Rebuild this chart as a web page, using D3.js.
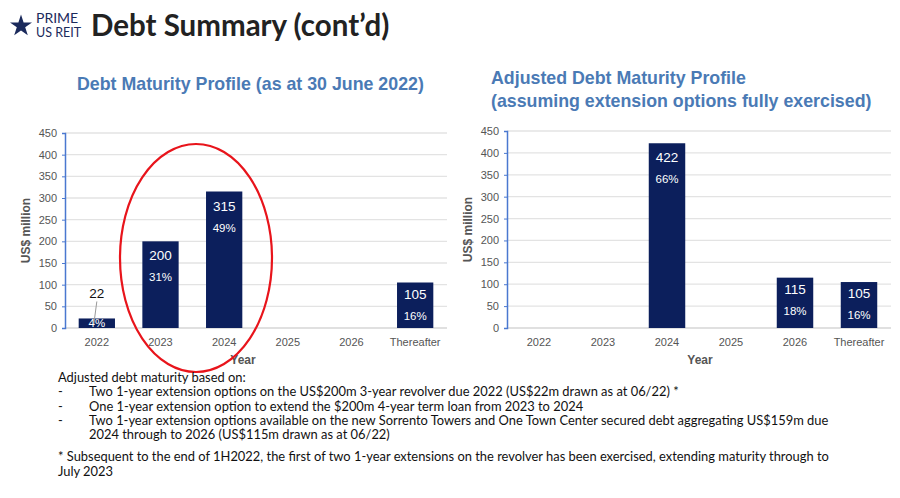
<!DOCTYPE html>
<html lang="en">
<head>
<meta charset="UTF-8">
<title>Debt Summary</title>
<script src="https://cdn.jsdelivr.net/npm/d3@7"></script>
<style>
  body { margin: 0; background: #fff; }
  svg { display: block; font-family: Arial, "Liberation Sans", sans-serif; }
  .notes { position: absolute; left: 58px; top: 370px; font-family: Lato, sans-serif; font-size: 12.9px; color: #111; line-height: 14.3px; }
  .notes .li span { display: inline-block; width: 31px; }
</style>
</head>
<body>
<div id="chart"></div>
<div class="notes">
  <div>Adjusted debt maturity based on:</div>
  <div class="li"><span>-</span>Two 1-year extension options on the US$200m 3-year revolver due 2022 (US$22m drawn as at 06/22) *</div>
  <div class="li"><span>-</span>One 1-year extension option to extend the $200m 4-year term loan from 2023 to 2024</div>
  <div class="li"><span>-</span>Two 1-year extension options available on the new Sorrento Towers and One Town Center secured debt aggregating US$159m due</div>
  <div class="li"><span></span>2024 through to 2026 (US$115m drawn as at 06/22)</div>
  <div style="height:8px"></div>
  <div>* Subsequent to the end of 1H2022, the first of two 1-year extensions on the revolver has been exercised, extending maturity through to</div>
  <div>July 2023</div>
</div>
<script>
const years = ['2022', '2023', '2024', '2025', '2026', 'Thereafter'];
const actualValues = [22, 200, 315, 0, 0, 105];
const actualPct = ['4%', '31%', '49%', '', '', '16%'];
const adjustedValues = [0, 0, 422, 0, 115, 105];
const adjustedPct = ['', '', '66%', '', '18%', '16%'];
const yTicks = [0, 50, 100, 150, 200, 250, 300, 350, 400, 450];

const svg = d3.select('#chart').append('svg').attr('width', 900).attr('height', 498);

// logo + heading
const logo = svg.append('g').attr('transform', 'translate(21,26)');
logo.append('path').attr('d', d3.symbol(d3.symbolStar, 150)()).attr('fill', '#1b2a5c');
svg.append('text').attr('x', 36).attr('y', 23).attr('font-size', 14).attr('fill', '#1b2a5c')
  .attr('font-family', 'Lato, sans-serif').text('PRIME');
svg.append('text').attr('x', 36).attr('y', 37).attr('font-size', 12.5).attr('fill', '#1b2a5c')
  .attr('font-family', 'Lato, sans-serif').text('US REIT');
svg.append('text').attr('x', 91).attr('y', 36).attr('font-size', 29.5).attr('font-weight', 'bold')
  .attr('font-family', 'Lato, sans-serif').attr('fill', '#222').text('Debt Summary (cont’d)');

function chart(opts) {
  const x = d3.scaleBand().domain(years).range([opts.x0, opts.x1]).paddingInner(0.43).paddingOuter(0.215);
  const y = d3.scaleLinear().domain([0, 450]).range([opts.yb, opts.yt]);
  const g = svg.append('g');

  g.append('g').selectAll('line').data(yTicks.slice(1)).join('line')
    .attr('x1', opts.x0).attr('x2', opts.x1).attr('y1', d => y(d)).attr('y2', d => y(d))
    .attr('stroke', '#e3e3e3').attr('stroke-width', 1.3);
  g.append('line').attr('x1', opts.x0).attr('x2', opts.x1).attr('y1', y(0)).attr('y2', y(0))
    .attr('stroke', '#d6d6d6').attr('stroke-width', 1.5);

  const ax = g.append('g').attr('transform', `translate(${opts.x0},0)`)
    .call(d3.axisLeft(y).tickValues(yTicks).tickSize(3).tickPadding(5));
  ax.select('.domain').attr('stroke', '#4a78d0').attr('stroke-width', 1.5);
  ax.selectAll('.tick line').attr('stroke', '#4a78d0');
  ax.selectAll('text').attr('font-size', 11).attr('fill', '#555');

  g.selectAll('rect').data(opts.values).join('rect')
    .attr('x', (d, i) => x(years[i])).attr('width', x.bandwidth())
    .attr('y', d => y(d)).attr('height', d => y(0) - y(d))
    .attr('fill', '#0c1f5c');

  g.selectAll('.xl').data(years).join('text')
    .attr('x', d => x(d) + x.bandwidth() / 2).attr('y', y(0) + 18)
    .attr('text-anchor', 'middle').attr('font-size', 11).attr('fill', '#555').text(d => d);

  g.append('text').attr('transform', `translate(${opts.x0 - 35},${(y(0) + y(450)) / 2}) rotate(-90)`)
    .attr('text-anchor', 'middle').attr('font-size', 12).attr('font-weight', 'bold').attr('fill', '#555').text('US$ million');
  g.append('text').attr('x', opts.yearX).attr('y', y(0) + 36).attr('text-anchor', 'middle')
    .attr('font-size', 12).attr('font-weight', 'bold').attr('fill', '#555').text('Year');

  opts.values.forEach((v, i) => {
    if (!v) return;
    const cx = x(years[i]) + x.bandwidth() / 2;
    if (v < 50) {
      g.append('text').attr('x', cx).attr('y', y(v) - 20).attr('text-anchor', 'middle')
        .attr('font-size', 13.5).attr('fill', '#111').text(v);
      g.append('line').attr('x1', cx).attr('x2', cx - 3).attr('y1', y(v) - 17).attr('y2', y(0) - 4)
        .attr('stroke', '#999');
      g.append('text').attr('x', cx).attr('y', y(0) - 1).attr('text-anchor', 'middle')
        .attr('font-size', 11.5).attr('fill', '#fff').text(opts.pct[i]);
    } else {
      const off = v > 150 ? 0 : -3;
      g.append('text').attr('x', cx).attr('y', y(v) + 19 + off).attr('text-anchor', 'middle')
        .attr('font-size', 13.5).attr('fill', '#fff').text(v);
      g.append('text').attr('x', cx).attr('y', y(v) + 40 + off).attr('text-anchor', 'middle')
        .attr('font-size', 11.5).attr('fill', '#fff').text(opts.pct[i]);
    }
  });
  return x;
}

svg.append('text').attr('x', 77).attr('y', 90).attr('font-size', 17.8).attr('font-weight', 'bold')
  .attr('fill', '#4a7ab5').text('Debt Maturity Profile (as at 30 June 2022)');
svg.append('text').attr('x', 491).attr('y', 84).attr('font-size', 17.8).attr('font-weight', 'bold')
  .attr('fill', '#4a7ab5').text('Adjusted Debt Maturity Profile');
svg.append('text').attr('x', 491).attr('y', 107).attr('font-size', 17.8).attr('font-weight', 'bold')
  .attr('fill', '#4a7ab5').text('(assuming extension options fully exercised)');

chart({ x0: 65, x1: 447, yb: 328, yt: 133, values: actualValues, pct: actualPct, yearX: 243 });
chart({ x0: 507, x1: 891, yb: 328, yt: 131, values: adjustedValues, pct: adjustedPct, yearX: 700 });

// red highlight ellipse
svg.append('ellipse').attr('cx', 196).attr('cy', 258).attr('rx', 76).attr('ry', 114)
  .attr('fill', 'none').attr('stroke', '#e8141b').attr('stroke-width', 2.2);
</script>
</body>
</html>
